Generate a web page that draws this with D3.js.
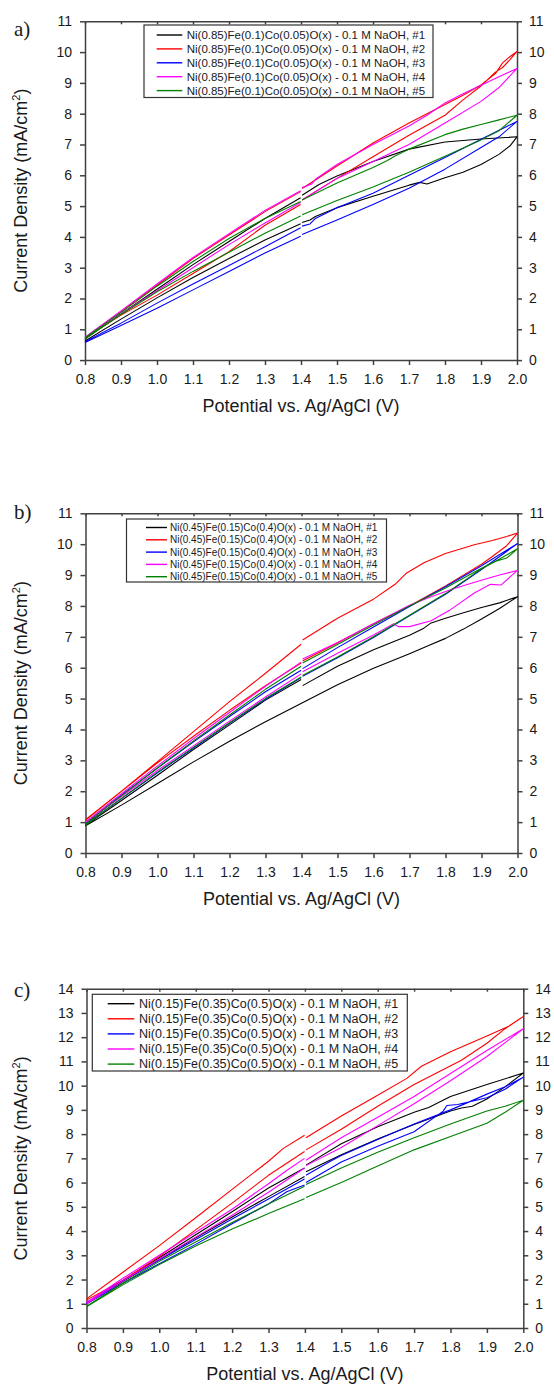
<!DOCTYPE html>
<html>
<head>
<meta charset="utf-8">
<script src="https://cdn.jsdelivr.net/npm/d3@7"></script>
<style>
body { margin: 0; background: #fff; }
svg text { font-family: "Liberation Sans", Arial, sans-serif; fill: #1a1a1a; }
.axis path, .axis line { stroke: #404040; stroke-width: 1.5; }
.panel-label { font-family: "Liberation Serif", "Times New Roman", serif !important; }
</style>
</head>
<body>
<svg id="chart" width="554" height="1385"></svg>
<script>
// tick values
const xTicks = [0.8, 0.9, 1.0, 1.1, 1.2, 1.3, 1.4, 1.5, 1.6, 1.7, 1.8, 1.9, 2.0]
const yTicksAB = [0, 1, 2, 3, 4, 5, 6, 7, 8, 9, 10, 11]
const yTicksC = [0, 1, 2, 3, 4, 5, 6, 7, 8, 9, 10, 11, 12, 13, 14]

const seriesColors = ['#000000', '#ff0000', '#0000ff', '#ff00ff', '#008000']

const labelsA = [1, 2, 3, 4, 5].map(n => 'Ni(0.85)Fe(0.1)Co(0.05)O(x) - 0.1 M NaOH, #' + n)
const labelsB = [1, 2, 3, 4, 5].map(n => 'Ni(0.45)Fe(0.15)Co(0.4)O(x) - 0.1 M NaOH, #' + n)
const labelsC = [1, 2, 3, 4, 5].map(n => 'Ni(0.15)Fe(0.35)Co(0.5)O(x) - 0.1 M NaOH, #' + n)

// [potential V, current density mA/cm2], null = break in the record at 1.4 V
const a1 = [[0.8,0.68],[0.9,1.5],[1.0,2.3],[1.1,3.1],[1.2,3.85],[1.3,4.6],[1.399,5.27],null,
  [1.403,5.35],[1.45,5.7],[1.5,5.98],[1.6,6.45],[1.7,6.85],[1.8,7.08],[1.9,7.18],[2.0,7.25],
  [1.98,6.95],[1.95,6.68],[1.9,6.35],[1.85,6.1],[1.8,5.92],[1.75,5.72],[1.73,5.77],[1.7,5.68],[1.6,5.32],[1.5,4.95],[1.44,4.66],[1.425,4.55],[1.403,4.47],null,
  [1.399,4.43],[1.3,3.9],[1.2,3.3],[1.1,2.68],[1.0,2.02],[0.9,1.33],[0.8,0.62]]
const a2 = [[0.8,0.72],[0.9,1.57],[1.0,2.43],[1.1,3.3],[1.2,4.06],[1.3,4.82],[1.399,5.47],null,
  [1.403,5.57],[1.44,5.85],[1.5,6.3],[1.6,7.05],[1.7,7.7],[1.75,8.0],[1.8,8.3],[1.85,8.6],[1.9,8.93],[1.94,9.3],[1.96,9.65],[1.98,9.85],[2.0,10.02],
  [1.98,9.75],[1.96,9.5],[1.94,9.35],[1.9,8.9],[1.85,8.45],[1.8,7.95],[1.7,7.3],[1.6,6.6],[1.5,5.9],[1.403,5.2],null,
  [1.399,5.05],[1.3,4.38],[1.2,3.52],[1.1,2.81],[1.0,2.11],[0.9,1.46],[0.8,0.72]]
const a3 = [[0.8,0.6],[0.9,1.2],[1.0,1.85],[1.1,2.47],[1.2,3.07],[1.3,3.68],[1.399,4.3],null,
  [1.403,4.35],[1.425,4.42],[1.44,4.6],[1.5,4.95],[1.6,5.42],[1.7,6.0],[1.8,6.58],[1.9,7.17],[2.0,7.75],
  [1.95,7.25],[1.9,6.9],[1.8,6.2],[1.7,5.58],[1.6,5.05],[1.5,4.55],[1.403,4.08],null,
  [1.399,4.02],[1.3,3.48],[1.2,2.88],[1.1,2.28],[1.0,1.68],[0.9,1.12],[0.8,0.57]]
const a4 = [[0.8,0.74],[0.9,1.6],[1.0,2.47],[1.1,3.33],[1.2,4.1],[1.3,4.86],[1.399,5.5],null,
  [1.403,5.6],[1.43,5.72],[1.44,5.87],[1.5,6.35],[1.6,7.0],[1.7,7.6],[1.75,7.95],[1.8,8.35],[1.85,8.65],[1.9,8.92],[1.95,9.2],[2.0,9.47],
  [1.95,8.85],[1.9,8.4],[1.8,7.7],[1.7,7.0],[1.6,6.45],[1.5,5.9],[1.403,5.2],null,
  [1.399,5.12],[1.3,4.45],[1.2,3.75],[1.1,3.0],[1.0,2.25],[0.9,1.5],[0.8,0.72]]
const a5 = [[0.8,0.73],[0.9,1.55],[1.0,2.4],[1.1,3.2],[1.2,3.95],[1.3,4.6],[1.399,5.15],null,
  [1.403,5.2],[1.5,5.75],[1.6,6.25],[1.64,6.48],[1.66,6.62],[1.7,6.85],[1.8,7.32],[1.85,7.5],[1.9,7.65],[1.95,7.8],[2.0,7.95],
  [1.95,7.45],[1.9,7.15],[1.8,6.62],[1.7,6.1],[1.6,5.62],[1.5,5.18],[1.403,4.72],null,
  [1.399,4.68],[1.3,4.12],[1.2,3.5],[1.1,2.88],[1.0,2.22],[0.9,1.48],[0.8,0.7]]

const b1 = [[0.8,0.88],[0.9,1.55],[1.0,2.25],[1.1,2.95],[1.2,3.62],[1.3,4.25],[1.4,4.85],[1.5,5.45],[1.6,5.98],[1.7,6.45],[1.75,6.7],[1.8,6.95],[1.85,7.25],[1.9,7.58],[1.95,7.92],[2.0,8.3],
  [1.95,8.1],[1.9,7.95],[1.85,7.78],[1.8,7.6],[1.76,7.45],[1.74,7.28],[1.7,7.05],[1.6,6.58],[1.5,6.05],[1.403,5.42],null,
  [1.399,5.62],[1.3,4.95],[1.2,4.15],[1.1,3.35],[1.0,2.52],[0.9,1.7],[0.8,0.9]]
const b2 = [[0.8,1.08],[0.9,2.0],[1.0,2.96],[1.1,3.93],[1.2,4.9],[1.3,5.82],[1.399,6.76],null,
  [1.403,6.9],[1.5,7.6],[1.6,8.22],[1.66,8.7],[1.69,9.05],[1.74,9.4],[1.8,9.7],[1.88,9.98],[1.93,10.12],[1.97,10.25],[2.0,10.36],
  [1.97,9.95],[1.93,9.6],[1.9,9.35],[1.8,8.65],[1.7,8.0],[1.6,7.42],[1.5,6.8],[1.403,6.22],null,
  [1.399,6.15],[1.3,5.42],[1.2,4.62],[1.1,3.78],[1.0,2.92],[0.9,2.0],[0.8,1.06]]
const b3 = [[0.8,0.97],[0.9,1.88],[1.0,2.75],[1.1,3.6],[1.2,4.42],[1.3,5.22],[1.399,5.92],null,
  [1.403,5.97],[1.5,6.65],[1.6,7.32],[1.7,7.98],[1.8,8.62],[1.9,9.3],[2.0,10.02],
  [1.9,9.18],[1.8,8.38],[1.7,7.68],[1.6,6.98],[1.5,6.32],[1.403,5.72],null,
  [1.399,5.68],[1.3,4.98],[1.2,4.2],[1.1,3.4],[1.0,2.6],[0.9,1.76],[0.8,0.93]]
const b4 = [[0.8,1.0],[0.9,1.92],[1.0,2.82],[1.1,3.7],[1.2,4.55],[1.3,5.4],[1.399,6.18],null,
  [1.403,6.28],[1.5,6.82],[1.6,7.42],[1.7,8.02],[1.76,8.3],[1.82,8.55],[1.89,8.8],[1.95,9.0],[2.0,9.15],
  [1.98,8.95],[1.955,8.68],[1.925,8.7],[1.88,8.42],[1.81,7.85],[1.76,7.52],[1.7,7.33],[1.67,7.33],[1.655,7.42],[1.6,7.06],[1.5,6.47],[1.403,5.87],null,
  [1.399,5.8],[1.3,5.05],[1.2,4.27],[1.1,3.47],[1.0,2.67],[0.9,1.83],[0.8,0.98]]
const b5 = [[0.8,0.95],[0.9,1.86],[1.0,2.76],[1.1,3.63],[1.2,4.47],[1.3,5.3],[1.399,6.05],null,
  [1.403,6.15],[1.5,6.75],[1.6,7.38],[1.7,8.0],[1.8,8.58],[1.9,9.22],[1.95,9.52],[2.0,9.85],
  [1.97,9.55],[1.94,9.45],[1.9,9.2],[1.8,8.4],[1.7,7.7],[1.6,7.0],[1.5,6.35],[1.403,5.75],null,
  [1.399,5.7],[1.3,5.0],[1.2,4.22],[1.1,3.42],[1.0,2.62],[0.9,1.77],[0.8,0.9]]

const c1 = [[0.8,1.0],[0.9,1.92],[1.0,2.82],[1.1,3.72],[1.2,4.58],[1.3,5.42],[1.399,6.25],null,
  [1.403,6.45],[1.5,7.15],[1.6,7.8],[1.7,8.4],[1.8,8.95],[1.83,9.08],[1.86,9.15],[1.9,9.45],[1.95,9.95],[2.0,10.52],
  [1.9,10.05],[1.8,9.55],[1.74,9.1],[1.7,8.9],[1.6,8.3],[1.5,7.6],[1.403,6.72],null,
  [1.399,6.6],[1.3,5.78],[1.2,4.8],[1.1,3.85],[1.0,2.9],[0.9,1.95],[0.8,1.02]]
const c2 = [[0.8,1.2],[0.9,2.3],[1.0,3.4],[1.1,4.55],[1.2,5.72],[1.3,6.88],[1.34,7.4],[1.399,7.95],null,
  [1.403,7.85],[1.5,8.75],[1.6,9.6],[1.68,10.3],[1.72,10.8],[1.8,11.4],[1.9,12.05],[1.96,12.45],[2.0,12.85],
  [1.95,12.35],[1.9,11.75],[1.83,11.05],[1.7,10.05],[1.6,9.15],[1.5,8.2],[1.403,7.35],null,
  [1.399,7.28],[1.3,6.3],[1.2,5.15],[1.1,4.05],[1.0,2.95],[0.9,1.97],[0.8,1.15]]
const c3 = [[0.8,1.05],[0.9,1.95],[1.0,2.8],[1.1,3.65],[1.2,4.5],[1.3,5.32],[1.399,6.15],null,
  [1.403,6.3],[1.47,6.88],[1.5,7.12],[1.6,7.78],[1.7,8.42],[1.8,9.0],[1.85,9.32],[1.9,9.65],[1.95,9.95],[2.0,10.35],
  [1.95,9.85],[1.9,9.5],[1.82,9.22],[1.79,9.18],[1.78,8.95],[1.7,8.1],[1.6,7.5],[1.5,6.85],[1.403,6.0],null,
  [1.399,5.9],[1.35,5.62],[1.3,5.12],[1.2,4.3],[1.1,3.45],[1.0,2.65],[0.9,1.85],[0.8,1.0]]
const c4 = [[0.8,1.0],[0.9,1.95],[1.0,2.85],[1.1,3.75],[1.2,4.65],[1.3,5.6],[1.399,6.6],null,
  [1.403,6.7],[1.5,7.45],[1.6,8.35],[1.7,9.25],[1.8,10.2],[1.9,11.2],[2.0,12.35],
  [1.9,11.45],[1.8,10.5],[1.7,9.55],[1.6,8.7],[1.5,7.85],[1.403,6.92],null,
  [1.399,7.0],[1.35,6.5],[1.3,5.95],[1.2,4.9],[1.1,3.95],[1.0,3.0],[0.9,2.05],[0.8,1.05]]
const c5 = [[0.8,0.9],[0.9,1.85],[1.0,2.75],[1.1,3.55],[1.2,4.35],[1.3,5.12],[1.399,5.85],null,
  [1.403,5.92],[1.5,6.6],[1.6,7.25],[1.7,7.85],[1.8,8.42],[1.9,8.95],[1.95,9.15],[2.0,9.4],
  [1.95,8.9],[1.9,8.45],[1.8,7.9],[1.7,7.35],[1.6,6.68],[1.5,6.0],[1.403,5.38],null,
  [1.399,5.33],[1.3,4.72],[1.2,4.08],[1.1,3.38],[1.0,2.62],[0.9,1.78],[0.8,0.88]]

const svg = d3.select('#chart')

const panels = [
  { tag: 'a)', tagY: 36, left: 85, right: 517, top: 21.3, bottom: 360.1,
    yMax: 11, yTicks: yTicksAB, series: [a1, a2, a3, a4, a5], labels: labelsA,
    legend: { x: 144, y: 25, w: 289, h: 72.5, row0: 35, step: 13.9, l0: 156.7, l1: 182.3, tx: 186.7, fs: 11.5 } },
  { tag: 'b)', tagY: 519, left: 85.5, right: 517.5, top: 513.3, bottom: 853,
    yMax: 11, yTicks: yTicksAB, series: [b1, b2, b3, b4, b5], labels: labelsB,
    legend: { x: 126.5, y: 519, w: 260, h: 63, row0: 527.5, step: 12.3, l0: 146, l1: 167, tx: 170, fs: 10 } },
  { tag: 'c)', tagY: 997, left: 86.5, right: 523.3, top: 988.7, bottom: 1328,
    yMax: 14, yTicks: yTicksC, series: [c1, c2, c3, c4, c5], labels: labelsC,
    legend: { x: 92.3, y: 994.3, w: 315, h: 76.7, row0: 1003.7, step: 15.1, l0: 107.7, l1: 134.3, tx: 139, fs: 12.5 } },
]

panels.forEach(drawPanel)

function drawPanel(p) {
  var x = d3.scaleLinear().domain([0.8, 2.0]).range([p.left, p.right])
  var y = d3.scaleLinear().domain([0, p.yMax]).range([p.bottom, p.top])
  var g = svg.append('g')

  // bottom axis
  g.append('g').attr('class', 'axis')
   .attr('transform', `translate(0,${p.bottom})`)
   .call(d3.axisBottom(x).tickValues(xTicks).tickFormat(d3.format('.1f'))
         .tickSize(5).tickSizeOuter(0).tickPadding(9))
  // top axis, inward ticks, no labels
  g.append('g').attr('class', 'axis')
   .attr('transform', `translate(0,${p.top})`)
   .call(d3.axisTop(x).tickValues(xTicks).tickFormat('')
         .tickSize(-3).tickSizeOuter(0))
  // left axis
  g.append('g').attr('class', 'axis')
   .attr('transform', `translate(${p.left},0)`)
   .call(d3.axisLeft(y).tickValues(p.yTicks).tickFormat(d3.format('d'))
         .tickSize(5).tickSizeOuter(0).tickPadding(8))
  // right axis
  g.append('g').attr('class', 'axis')
   .attr('transform', `translate(${p.right},0)`)
   .call(d3.axisRight(y).tickValues(p.yTicks).tickFormat(d3.format('d'))
         .tickSize(5).tickSizeOuter(0).tickPadding(7))

  g.selectAll('.axis text')
   .style('font-size', '14px')
   .style('fill', '#1a1a1a')

  // curves
  var line = d3.line()
               .defined(d => d !== null)
               .x(d => x(d[0]))
               .y(d => y(d[1]))

  g.selectAll('.curve')
   .data(p.series)
   .enter().append('path')
   .attr('class', 'curve')
   .attr('fill', 'none')
   .attr('stroke', (d, i) => seriesColors[i])
   .attr('stroke-width', 1.1)
   .attr('stroke-linejoin', 'round')
   .attr('d', line)

  // legend
  var L = p.legend
  var legend = g.append('g')
  legend.append('rect')
        .attr('x', L.x).attr('y', L.y)
        .attr('width', L.w).attr('height', L.h)
        .attr('fill', '#fff')
        .attr('stroke', '#333')
        .attr('stroke-width', 1.2)
  p.labels.forEach(function (lab, i) {
    var yy = L.row0 + i * L.step
    legend.append('line')
          .attr('x1', L.l0).attr('x2', L.l1)
          .attr('y1', yy).attr('y2', yy)
          .attr('stroke', seriesColors[i])
          .attr('stroke-width', 1.4)
    legend.append('text')
          .attr('x', L.tx).attr('y', yy)
          .attr('dy', '0.35em')
          .style('font-size', L.fs + 'px')
          .text(lab)
  })

  // axis titles
  g.append('text')
   .attr('x', (p.left + p.right) / 2)
   .attr('y', p.bottom + 52)
   .attr('text-anchor', 'middle')
   .style('font-size', '18px')
   .text('Potential vs. Ag/AgCl (V)')

  var yt = g.append('text')
            .attr('transform', `translate(27,${(p.top + p.bottom) / 2}) rotate(-90)`)
            .attr('text-anchor', 'middle')
            .style('font-size', '18px')
  yt.append('tspan').text('Current Density (mA/cm')
  yt.append('tspan').attr('dy', -7).style('font-size', '11px').text('2')
  yt.append('tspan').attr('dy', 7).text(')')

  // panel tag
  g.append('text')
   .attr('class', 'panel-label')
   .attr('x', 14).attr('y', p.tagY)
   .style('font-size', '21px')
   .text(p.tag)
}
</script>
</body>
</html>
